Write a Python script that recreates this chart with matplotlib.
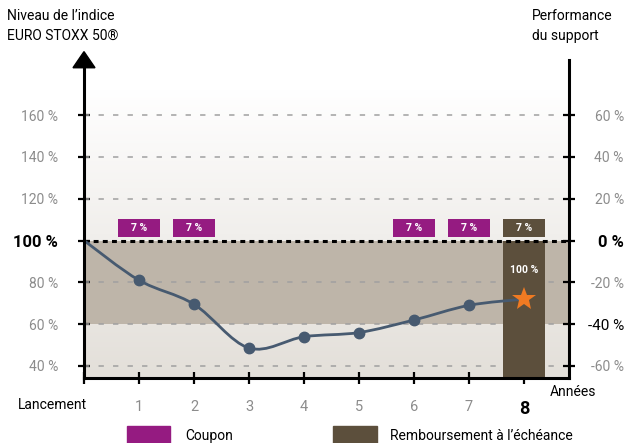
import numpy as np
import matplotlib.pyplot as plt
from matplotlib.path import Path
from matplotlib.patches import PathPatch, Rectangle, Polygon
from matplotlib.colors import LinearSegmentedColormap

plt.rcParams['font.family'] = ['Roboto', 'DejaVu Sans']

# values
years = [0, 1, 2, 3, 4, 5, 6, 7, 8]
index_level = [100, 81, 69.5, 48.6, 54, 56, 62, 69, 72]
coupon_years = [1, 2, 6, 7]
coupon_label = "7 %"
final_year = 8
final_label = "100 %"
barrier = 60
initial = 100

left_ticks = [40, 60, 80, 100, 120, 140, 160]
left_labels = ["40 %", "60 %", "80 %", "100 %", "120 %", "140 %", "160 %"]
right_ticks = [-60, -40, -20, 0, 20, 40, 60]
right_labels = ["-60 %", "-40 %", "-20 %", "0 %", "20 %", "40 %", "60 %"]
x_labels = ["", "1", "2", "3", "4", "5", "6", "7", "8"]

PURPLE = "#951b81"
BROWN = "#5c4f3c"
BAND = "#beb5a9"
LINE = "#475a70"
STAR = "#f07a22"
GREY = "#8c8c8c"

ymin, ymax = 34.26, 186.3
xmax = 8.818

fig = plt.figure(figsize=(6.24, 4.43), dpi=100)
ax = fig.add_axes([84 / 624, 65 / 443, 485 / 624, 318 / 443])
ax.patch.set_alpha(0)

# background gradient
grad = np.linspace(0, 1, 256).reshape(-1, 1)
cmap = LinearSegmentedColormap.from_list("bg", ["#e3dfd9", "#f1efec", "#ffffff"])
ax.imshow(grad, extent=[0, xmax, ymin, 172], aspect="auto", origin="lower",
          cmap=cmap, zorder=0)
ax.axhspan(barrier, initial, color=BAND, zorder=1, lw=0)

for v in left_ticks:
    if v != initial:
        ax.axhline(v, color="#a0a0a0", lw=1.1, dashes=(3.5, 6), zorder=2)

# maturity bar and coupon boxes
ax.bar(final_year, initial - ymin, bottom=ymin, width=0.78, color=BROWN, zorder=3)
ax.bar(coupon_years, 8.6, bottom=101.7, width=0.78, color=PURPLE, zorder=3)
ax.bar(final_year, 8.6, bottom=101.7, width=0.78, color=BROWN, zorder=3)
for x in coupon_years + [final_year]:
    ax.text(x, 106, coupon_label, color="white", fontsize=7.5, fontweight="bold",
            ha="center", va="center", zorder=6)
ax.text(final_year, 85.8, final_label, color="white", fontsize=7.5,
        fontweight="bold", ha="center", va="center", zorder=6)

ax.axhline(initial, color="black", lw=2.2, dashes=(1.6, 1.4), zorder=5)

# smooth curve (Catmull-Rom -> bezier)
pts = np.column_stack([years, index_level]).astype(float)
ext = np.vstack([pts[0], pts, pts[-1]])
verts = [tuple(pts[0])]
codes = [Path.MOVETO]
for i in range(1, len(ext) - 2):
    p0, p1, p2, p3 = ext[i - 1], ext[i], ext[i + 1], ext[i + 2]
    c1 = p1 + (p2 - p0) / 6
    c2 = p2 - (p3 - p1) / 6
    verts += [tuple(c1), tuple(c2), tuple(p2)]
    codes += [Path.CURVE4] * 3
ax.add_patch(PathPatch(Path(verts, codes), fill=False, edgecolor=LINE, lw=2, zorder=6))
ax.plot(years[1:-1], index_level[1:-1], "o", color=LINE, ms=7.5, zorder=7)
ax.plot(years[-1], index_level[-1], marker="*", ms=18, color=STAR, mew=0, zorder=8)

ax.set_xlim(0, xmax)
ax.set_ylim(ymin, ymax)

# axes / spines
ax.spines["top"].set_visible(False)
ax.spines["right"].set_visible(False)
for s in ["left", "bottom"]:
    ax.spines[s].set_linewidth(2.2)
    ax.spines[s].set_zorder(9)

arrow = Polygon([[-0.2, 182.6], [0.2, 182.6], [0, 190.3]], closed=True,
                color="black", clip_on=False, zorder=10)
ax.add_patch(arrow)

ax.set_yticks(left_ticks, left_labels)
ax.tick_params(axis="y", direction="inout", length=9, width=1.6, color="black",
               pad=14, labelsize=10, labelcolor=GREY)
for lab, v in zip(ax.get_yticklabels(), left_ticks):
    if v == initial:
        lab.set_color("black")
        lab.set_fontsize(12)
        lab.set_fontweight("bold")

ax.set_xticks(years, x_labels)
ax.tick_params(axis="x", direction="inout", length=9, width=1.6, color="black",
               pad=11, labelsize=10.5, labelcolor=GREY)
last = ax.get_xticklabels()[-1]
last.set_color("black")
last.set_fontsize(13)
last.set_fontweight("bold")

ax.text(0.06, -0.085, "Lancement", transform=ax.get_xaxis_transform(),
        ha="right", va="center", fontsize=10)
ax.text(8.89, -0.044, "Années", transform=ax.get_xaxis_transform(),
        ha="center", va="center", fontsize=10)

ax2 = ax.twinx()
ax2.set_ylim(ymin - initial, ymax - initial)
for s in ["left", "top", "bottom"]:
    ax2.spines[s].set_visible(False)
ax2.spines["right"].set_linewidth(2.2)
ax2.set_yticks(right_ticks, right_labels)
ax2.tick_params(axis="y", direction="inout", length=9, width=1.6, color="black",
                pad=35, labelsize=10, labelcolor=GREY)
for lab in ax2.get_yticklabels():
    lab.set_horizontalalignment("right")
for lab, v in zip(ax2.get_yticklabels(), right_ticks):
    if v == 0:
        lab.set_color("black")
        lab.set_fontsize(12)
        lab.set_fontweight("bold")
    elif v == -40:
        lab.set_color("black")
        lab.set_fontsize(11)

# titles
fig.text(7 / 624, 1 - 16 / 443, "Niveau de l’indice", va="center", fontsize=10)
fig.text(7 / 624, 1 - 36 / 443, "EURO STOXX 50®", va="center", fontsize=10)
fig.text(532 / 624, 1 - 16 / 443, "Performance", va="center", fontsize=10)
fig.text(532 / 624, 1 - 36 / 443, "du support", va="center", fontsize=10)

# legend
fig.patches.append(Rectangle((127 / 624, 0), 43 / 624, 17 / 443,
                             transform=fig.transFigure, color=PURPLE))
fig.text(185 / 624, 7 / 443, "Coupon", va="center", fontsize=10)
fig.patches.append(Rectangle((333 / 624, 0), 44 / 624, 17 / 443,
                             transform=fig.transFigure, color=BROWN))
fig.text(390 / 624, 7 / 443, "Remboursement à l’échéance", va="center", fontsize=10)

fig.savefig("out.png", dpi=100)
